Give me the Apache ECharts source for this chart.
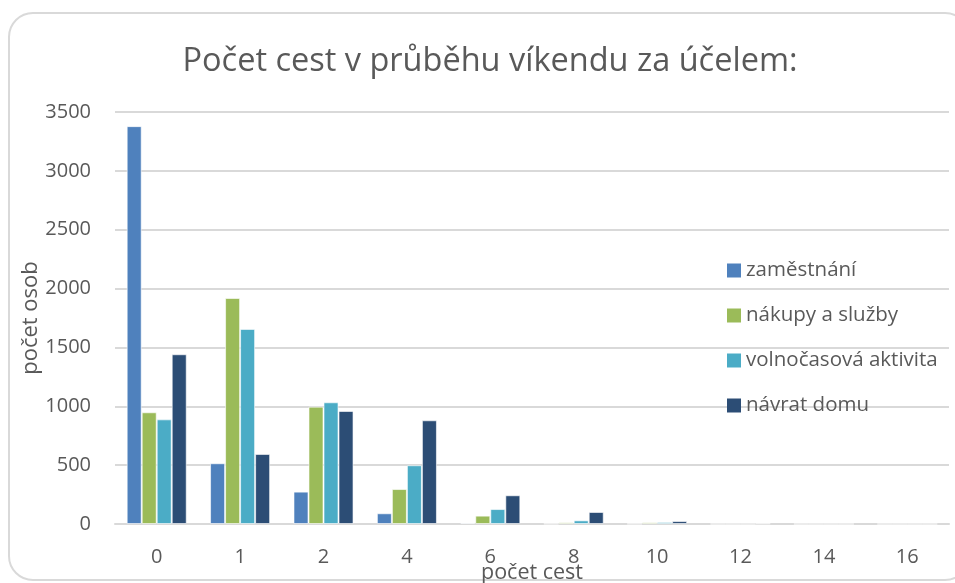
<!DOCTYPE html>
<html>
<head>
<meta charset="utf-8">
<script src="https://cdn.jsdelivr.net/npm/echarts@6/dist/echarts.min.js"></script>
<style>
  html, body { margin: 0; padding: 0; background: #fff; }
  #chart { width: 955px; height: 583px; }
</style>
</head>
<body>
<div id="chart"></div>
<script>
  // kategorie na ose x (počet cest)
  const categories = ["0", "1", "2", "4", "6", "8", "10", "12", "14", "16"];

  // hodnoty
  const zamestnani = [3380, 516, 275, 91, 10, 2, 2, 0, 0, 0];
  const nakupy = [949, 1920, 997, 297, 71, 14, 14, 0, 0, 0];
  const volnocas = [889, 1657, 1034, 499, 127, 31, 17, 0, 0, 0];
  const navrat = [1442, 595, 960, 881, 244, 102, 25, 4, 0, 0];

  const seriesNames = ["zaměstnání", "nákupy a služby", "volnočasová aktivita", "návrat domu"];
  const colors = ["#4F81BD", "#9BBB59", "#4BACC6", "#2C4D75"];

  const chartDom = document.getElementById("chart");
  const myChart = echarts.init(chartDom);

  const font = "Open Sans, sans-serif";
  const textColor = "#595959";

  const option = {
    animation: false,
    color: colors,
    title: {
      text: "Počet cest v průběhu víkendu za účelem:",
      left: 485,
      textAlign: "center",
      top: 40,
      textStyle: { fontFamily: font, fontWeight: "normal", fontSize: 32.5, color: textColor }
    },
    graphic: [
      {
        type: "rect",
        shape: { x: 9, y: 13, width: 960, height: 567, r: 24 },
        style: { fill: "none", stroke: "#d9d9d9", lineWidth: 2 },
        z: -1
      }
    ],
    legend: {
      orient: "vertical",
      left: 722,
      top: 255,
      itemWidth: 14,
      itemHeight: 14,
      itemGap: 24,
      itemStyle: { borderWidth: 0 },
      icon: "rect",
      textStyle: { fontFamily: font, fontSize: 20.5, color: textColor },
      data: seriesNames
    },
    grid: { left: 115, right: 6, top: 112, bottom: 59, outerBoundsMode: "none" },
    xAxis: {
      type: "category",
      data: categories,
      name: "počet cest",
      nameLocation: "middle",
      nameGap: 38,
      nameMoveOverlap: false,
      nameTextStyle: { fontFamily: font, fontSize: 21.5, color: textColor },
      axisLine: { lineStyle: { color: "#d9d9d9", width: 2 } },
      axisTick: { show: false },
      axisLabel: { fontFamily: font, fontSize: 20, color: textColor, margin: 23 }
    },
    yAxis: {
      type: "value",
      min: 0,
      max: 3500,
      interval: 500,
      name: "počet osob",
      nameLocation: "middle",
      nameGap: 73,
      nameMoveOverlap: false,
      nameTextStyle: { fontFamily: font, fontSize: 22, color: textColor },
      axisLine: { show: false },
      axisTick: { show: false },
      axisLabel: {
        fontFamily: font,
        fontSize: 20,
        color: textColor,
        margin: 24,
        formatter: (v) => String(v)
      },
      splitLine: { lineStyle: { color: "#d9d9d9", width: 2 } }
    },
    series: [zamestnani, nakupy, volnocas, navrat].map((data, i) => ({
      name: seriesNames[i],
      type: "bar",
      data,
      barGap: "0%",
      barCategoryGap: "28%",
      itemStyle: { borderColor: "rgba(255,255,255,0.6)", borderWidth: 1 }
    }))
  };
  myChart.setOption(option);
</script>
</body>
</html>
